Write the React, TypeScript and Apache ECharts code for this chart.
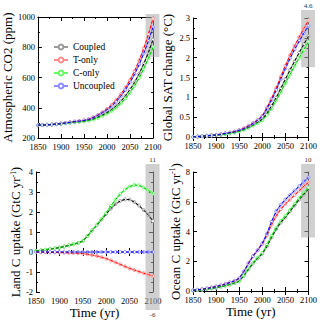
import React, { useEffect, useRef } from "react";
import * as echarts from "echarts";

const years = [1850, 1860, 1870, 1880, 1890, 1900, 1910, 1920, 1930, 1940, 1950, 1960, 1970, 1980, 1990, 2000, 2010, 2020, 2030, 2040, 2050, 2060, 2070, 2080, 2090, 2100];
const scenarios = ["Coupled", "T-only", "C-only", "Uncoupled"];
const lineColors = ["#000000", "#ff0000", "#00cc00", "#0000ff"];
const markerColors = ["#9a9a9a", "#ff8c8c", "#66ff66", "#8c8cff"];

// Atmospheric CO2 (ppm)
const co2Coupled = [285, 286, 287, 289, 292, 295, 299, 303, 306, 309, 312, 318, 326, 338, 352, 368, 388, 412, 442, 478, 520, 568, 625, 690, 765, 850];
const co2Tonly = [285, 286, 287, 289, 292, 295, 299, 304, 308, 312, 316, 324, 336, 352, 370, 392, 418, 450, 488, 532, 583, 642, 712, 792, 885, 990];
const co2Conly = [285, 286, 287, 289, 291, 294, 297, 301, 304, 307, 310, 315, 322, 333, 346, 361, 379, 401, 428, 461, 500, 545, 598, 658, 726, 800];
const co2Uncoupled = [285, 286, 287, 289, 292, 295, 299, 304, 308, 312, 316, 323, 334, 349, 366, 386, 410, 440, 476, 518, 567, 622, 686, 760, 842, 932];

// Global SAT change (°C)
const satCoupled = [0, 0.01, 0.02, 0.03, 0.04, 0.05, 0.06, 0.08, 0.1, 0.12, 0.15, 0.19, 0.24, 0.3, 0.37, 0.45, 0.6, 0.78, 0.99, 1.22, 1.46, 1.69, 1.91, 2.13, 2.34, 2.54];
const satTonly = [0, 0.01, 0.02, 0.03, 0.04, 0.05, 0.07, 0.09, 0.11, 0.14, 0.17, 0.22, 0.28, 0.35, 0.43, 0.53, 0.74, 0.97, 1.23, 1.52, 1.8, 2.06, 2.3, 2.52, 2.74, 2.94];
const satConly = [0, 0.01, 0.02, 0.03, 0.04, 0.05, 0.06, 0.07, 0.09, 0.11, 0.14, 0.18, 0.23, 0.29, 0.35, 0.42, 0.56, 0.72, 0.92, 1.13, 1.36, 1.58, 1.79, 2.0, 2.2, 2.4];
const satUncoupled = [0, 0.01, 0.02, 0.03, 0.04, 0.05, 0.07, 0.09, 0.11, 0.13, 0.17, 0.21, 0.27, 0.34, 0.42, 0.52, 0.71, 0.93, 1.18, 1.46, 1.73, 1.98, 2.21, 2.42, 2.62, 2.8];

// Land C uptake (GtC/yr)
const landCoupled = [0.05, 0.08, 0.11, 0.15, 0.18, 0.22, 0.27, 0.33, 0.39, 0.45, 0.55, 0.8, 1.08, 1.35, 1.62, 1.9, 2.17, 2.4, 2.55, 2.63, 2.62, 2.5, 2.32, 2.1, 1.85, 1.55];
const landTonly = [0, -0.01, -0.01, -0.02, -0.02, -0.03, -0.03, -0.04, -0.05, -0.06, -0.08, -0.11, -0.15, -0.2, -0.26, -0.33, -0.42, -0.52, -0.62, -0.72, -0.82, -0.9, -0.98, -1.06, -1.13, -1.2];
const landConly = [0.05, 0.08, 0.11, 0.15, 0.18, 0.22, 0.27, 0.33, 0.39, 0.45, 0.55, 0.8, 1.08, 1.36, 1.65, 1.95, 2.3, 2.62, 2.9, 3.12, 3.27, 3.35, 3.33, 3.22, 3.08, 2.92];
const landUncoupled = [0, 0, 0, 0, 0, 0, 0, 0, 0, 0, 0, 0, 0, 0, 0, 0, 0, 0, 0, 0, 0, 0, 0, 0, 0, 0];

// Ocean C uptake (GtC/yr)
const oceanCoupled = [0.04, 0.06, 0.09, 0.13, 0.18, 0.23, 0.29, 0.36, 0.44, 0.54, 0.66, 1.02, 1.45, 1.85, 2.2, 2.5, 3.0, 3.6, 4.15, 4.6, 4.95, 5.35, 5.75, 6.15, 6.5, 6.85];
const oceanTonly = [0.05, 0.08, 0.12, 0.17, 0.23, 0.3, 0.38, 0.47, 0.57, 0.68, 0.85, 1.3, 1.85, 2.35, 2.75, 3.15, 3.75, 4.45, 5.05, 5.5, 5.85, 6.15, 6.45, 6.75, 7.05, 7.3];
const oceanConly = [0.04, 0.06, 0.09, 0.13, 0.18, 0.23, 0.3, 0.37, 0.45, 0.55, 0.68, 1.05, 1.5, 1.9, 2.25, 2.55, 3.1, 3.7, 4.25, 4.7, 5.05, 5.45, 5.85, 6.25, 6.6, 6.95];
const oceanUncoupled = [0.05, 0.08, 0.12, 0.17, 0.23, 0.3, 0.38, 0.47, 0.57, 0.68, 0.85, 1.3, 1.85, 2.35, 2.75, 3.2, 3.85, 4.65, 5.35, 5.8, 6.15, 6.45, 6.75, 7.05, 7.35, 7.65];

const panelData = [
  [co2Coupled, co2Tonly, co2Conly, co2Uncoupled],
  [satCoupled, satTonly, satConly, satUncoupled],
  [landCoupled, landTonly, landConly, landUncoupled],
  [oceanCoupled, oceanTonly, oceanConly, oceanUncoupled],
];

// model-range bands at 2100
const bandYears = [2084, 2114];
const bandLow = [735, 1.76, -6, 3.6];
const bandHigh = [1020, 4.6, 11, 10];

const yMin = [200, 0, -2, 0];
const yMax = [1000, 3, 4, 8];
const yInterval = [200, 0.5, 1, 2];
const yNames = [
  "Atmospheric CO2 (ppm)",
  "Global SAT change (°C)",
  "Land C uptake (GtC yr{sup|-1})",
  "Ocean C uptake (GtC yr{sup|-1})",
];
const xMin = 1850;
const xMax = 2100;
const xInterval = 50;

const grids = [
  { left: 36, top: 17, width: 117, height: 121 },
  { left: 193, top: 18, width: 117, height: 119 },
  { left: 36, top: 172, width: 117, height: 120 },
  { left: 193, top: 172, width: 117, height: 119 },
];
const yNameGaps = [21, 19, 13, 11];

const FONT = "'Liberation Serif', 'Times New Roman', 'DejaVu Serif', serif";

export default function App() {
  const ref = useRef<HTMLDivElement>(null);
  useEffect(() => {
    if (!ref.current) return;
    const chart = echarts.init(ref.current, undefined, { renderer: "svg" });
    const tickCommon = {
      axisLine: { show: true, lineStyle: { color: "#000", width: 1 } },
      axisTick: { show: true, inside: true, length: 4, lineStyle: { color: "#000", width: 1 } },
      minorTick: { show: true, splitNumber: 2, length: 2, lineStyle: { color: "#000", width: 1 } },
      splitLine: { show: false },
      minorSplitLine: { show: false },
    };
    const fmt = (v: number) => String(v);
    const xAxes: any[] = [];
    const yAxes: any[] = [];
    for (let p = 0; p < 4; p++) {
      xAxes.push({
        type: "value", gridIndex: p, position: "bottom", min: xMin, max: xMax, interval: xInterval,
        ...tickCommon,
        axisLabel: { show: true, fontFamily: FONT, fontSize: 8.5, lineHeight: 9, color: "#000", margin: 4, formatter: fmt },
        name: p >= 2 ? "Time (yr)" : "",
        nameLocation: "middle", nameGap: 12,
        nameTextStyle: { fontFamily: FONT, fontSize: 13, fontWeight: "normal", color: "#000" },
      });
      yAxes.push({
        type: "value", gridIndex: p, position: "left", min: yMin[p], max: yMax[p], interval: yInterval[p],
        ...tickCommon,
        axisLabel: { show: true, fontFamily: FONT, fontSize: 8.5, lineHeight: 8, color: "#000", margin: 3, formatter: fmt },
        name: yNames[p], nameLocation: "middle", nameGap: yNameGaps[p], nameRotate: 90,
        nameTextStyle: {
          fontFamily: FONT, fontSize: 13, fontWeight: "normal", color: "#000",
          rich: { sup: { fontFamily: FONT, fontSize: 7.5, color: "#000", verticalAlign: "top", padding: [0, 0, 5, 0] } },
        },
      });
    }
    for (let p = 0; p < 4; p++) {
      xAxes.push({
        type: "value", gridIndex: p, position: "top", min: xMin, max: xMax, interval: xInterval,
        ...tickCommon, axisLabel: { show: false },
      });
      yAxes.push({
        type: "value", gridIndex: p, position: "right", min: yMin[p], max: yMax[p], interval: yInterval[p],
        ...tickCommon, axisLabel: { show: false },
      });
    }
    const series: any[] = [];
    for (let p = 0; p < 4; p++) {
      for (let s = 0; s < 4; s++) {
        const data = years.map((y, i) => [y, panelData[p][s][i]]);
        series.push({
          type: "line", name: scenarios[s], xAxisIndex: p, yAxisIndex: p, data,
          symbol: "circle", symbolSize: 3, showSymbol: true,
          lineStyle: { color: markerColors[s], width: 1.4 },
          itemStyle: { color: "#ffffff", borderColor: markerColors[s], borderWidth: 1 },
          z: 3, silent: true,
        });
        series.push({
          type: "line", name: scenarios[s], xAxisIndex: p, yAxisIndex: p, data,
          symbol: "none",
          lineStyle: { color: lineColors[s], width: 1, type: [3, 2] },
          z: 4, silent: true,
        });
      }
    }
    chart.setOption({
      animation: false,
      textStyle: { fontFamily: FONT },
      grid: grids.map((g) => ({ ...g, containLabel: false })),
      xAxis: xAxes,
      yAxis: yAxes,
      legend: {
        data: scenarios, orient: "vertical", left: 48, top: 37, itemWidth: 14, itemHeight: 6, itemGap: 3,
        textStyle: { fontFamily: FONT, fontSize: 9.5, color: "#000" },
        selectedMode: false,
      },
      series,
    });
    const graphics: any[] = [];
    for (let p = 0; p < 4; p++) {
      const finder = { seriesIndex: p * 8 };
      const a = chart.convertToPixel(finder, [bandYears[0], bandHigh[p]]) as number[];
      const b = chart.convertToPixel(finder, [bandYears[1], bandLow[p]]) as number[];
      const g = grids[p];
      const plotTop = g.top;
      const plotBottom = g.top + g.height;
      const topLimit = plotTop - 8;
      const bottomLimit = plotBottom + 18;
      const yTop = Math.max(a[1], topLimit);
      const yBot = Math.min(b[1], bottomLimit);
      graphics.push({
        type: "rect", z: 1, silent: true,
        shape: { x: a[0], y: yTop, width: b[0] - a[0], height: yBot - yTop },
        style: { fill: "rgba(170,170,170,0.55)" },
      });
      const cx = (a[0] + b[0]) / 2;
      if (a[1] < topLimit) {
        graphics.push({
          type: "text", z: 1, x: cx, y: yTop - 1,
          style: { text: String(bandHigh[p]), fontFamily: FONT, fontSize: 7, fill: "#333", align: "center", verticalAlign: "bottom" },
        });
      }
      if (b[1] > bottomLimit) {
        graphics.push({
          type: "text", z: 1, x: cx, y: yBot + 1,
          style: { text: String(bandLow[p]), fontFamily: FONT, fontSize: 7, fill: "#333", align: "center", verticalAlign: "top" },
        });
      }
    }
    chart.setOption({ graphic: graphics });
    return () => chart.dispose();
  }, []);
  return <div ref={ref} style={{ position: "fixed", left: 0, top: 0, width: 320, height: 321, background: "#fff" }} />;
}
